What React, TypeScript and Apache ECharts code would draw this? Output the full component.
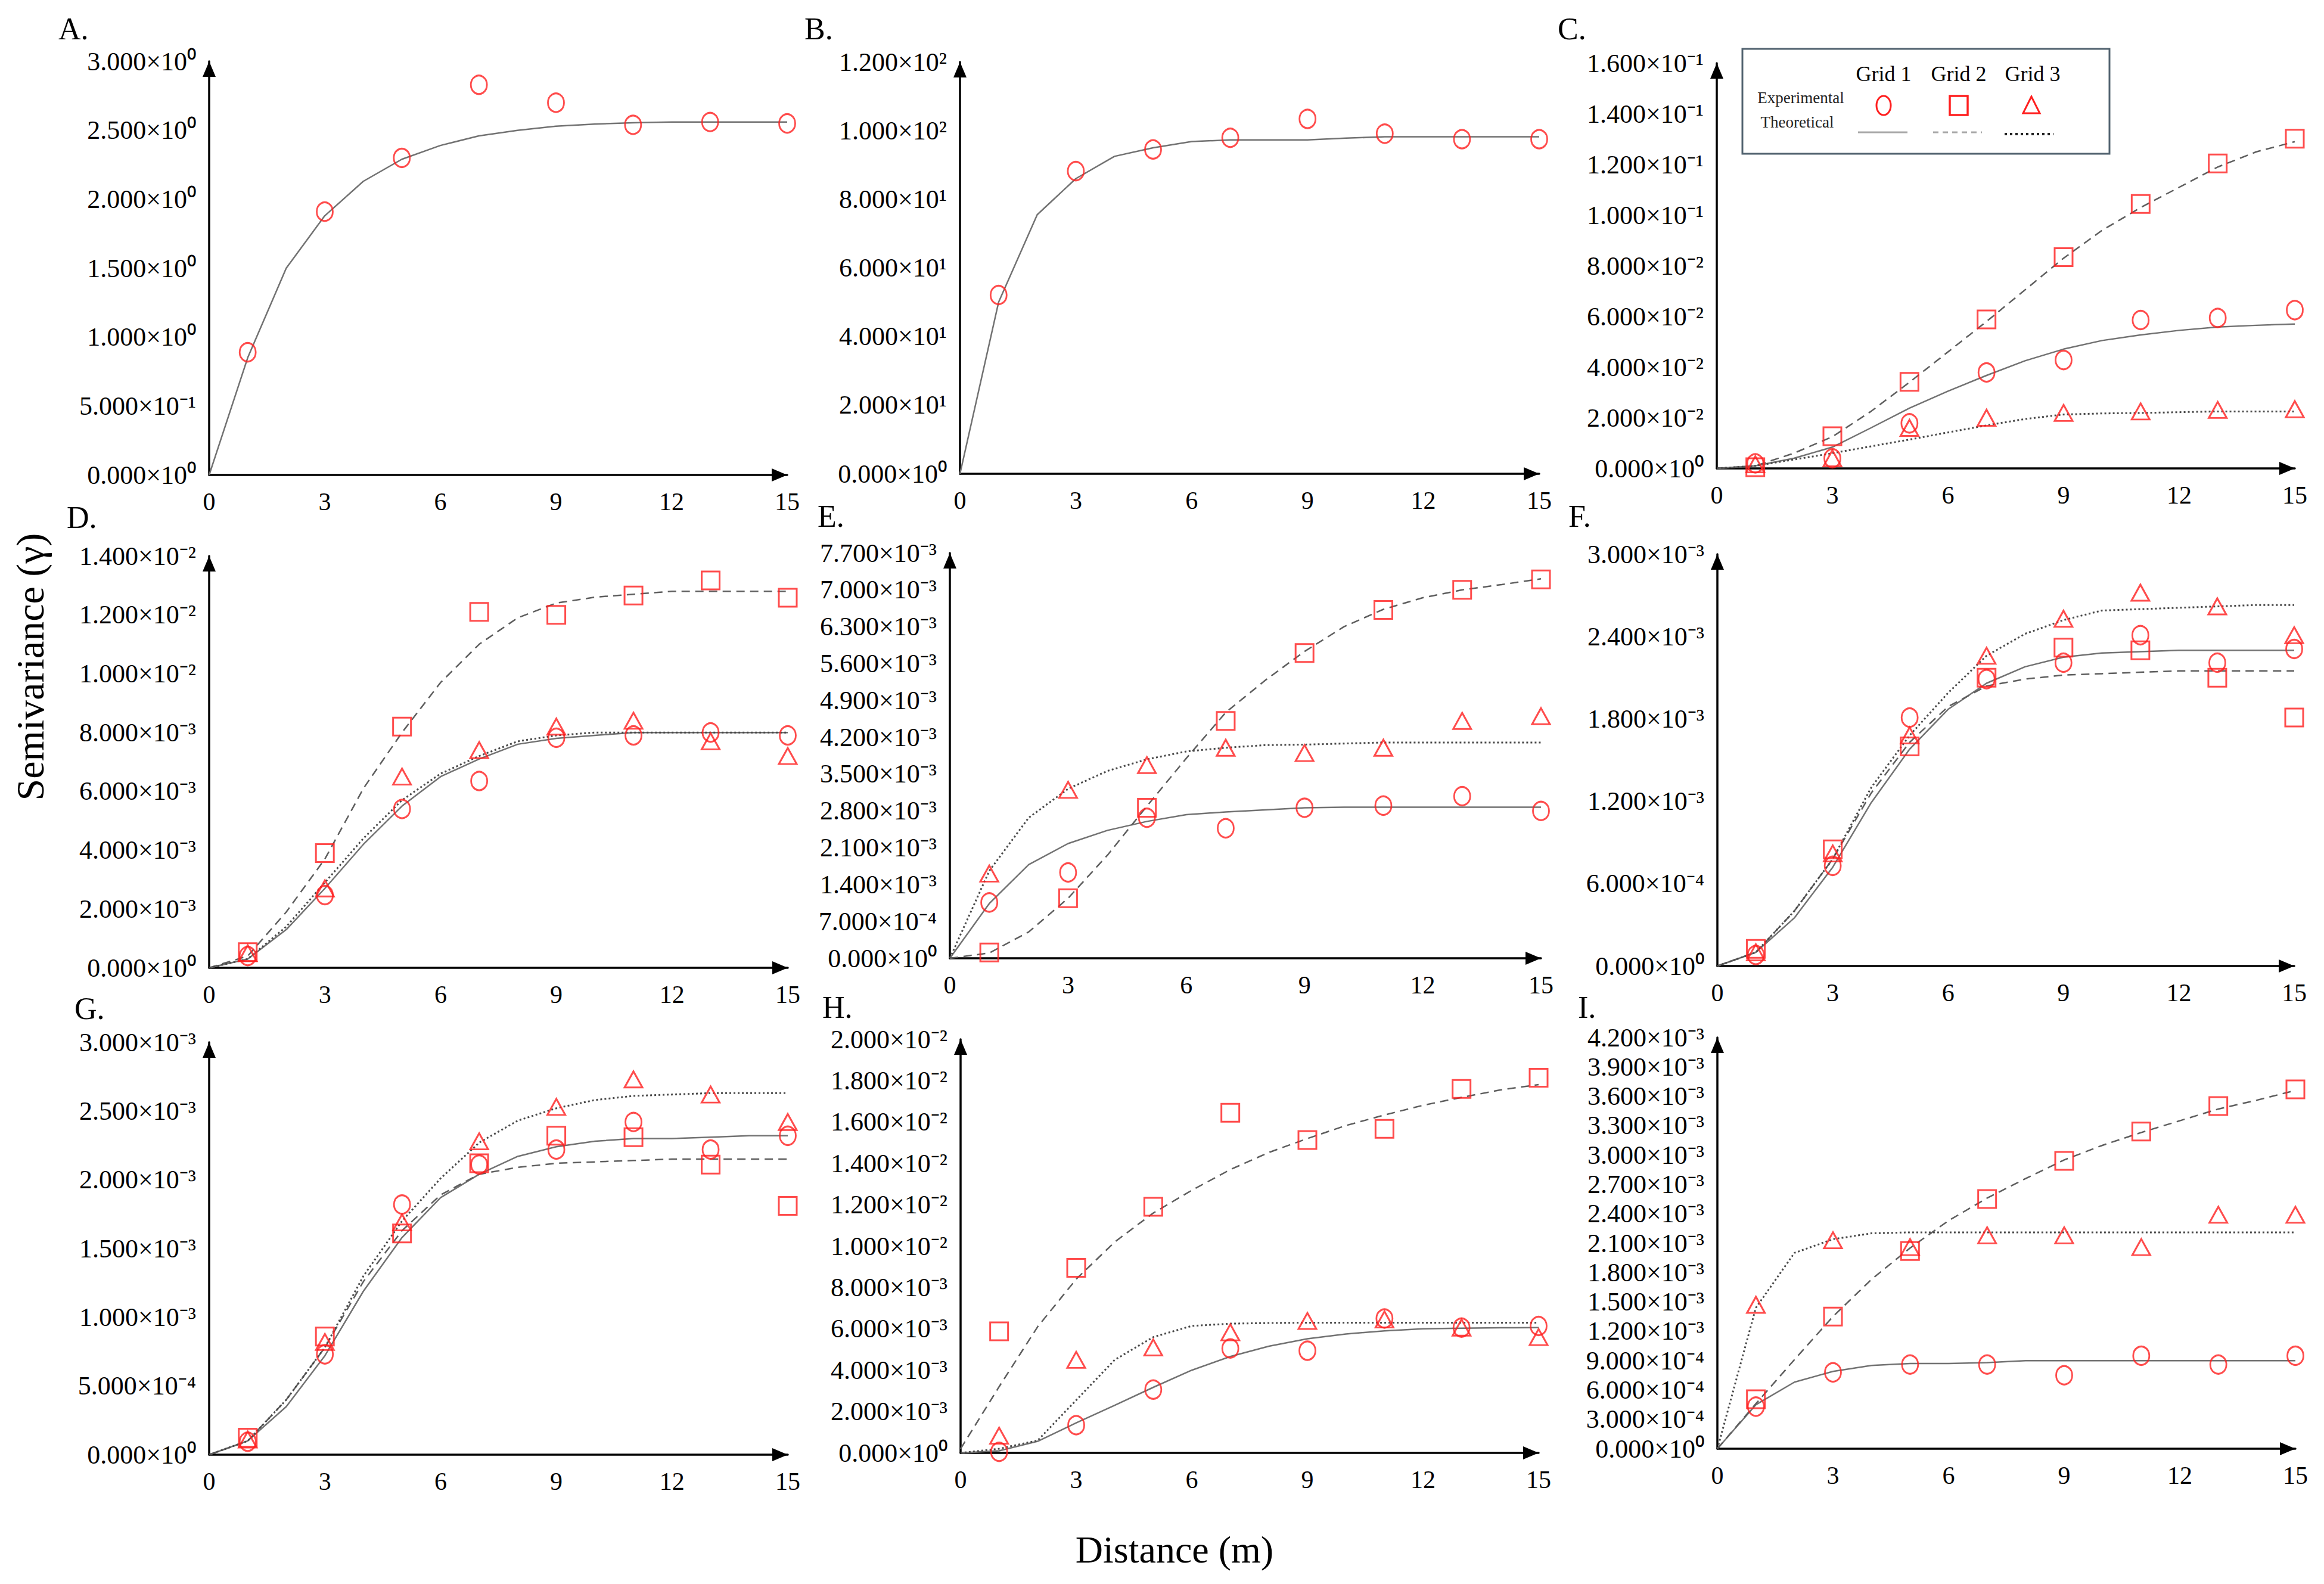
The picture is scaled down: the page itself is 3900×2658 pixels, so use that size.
import React, { useEffect, useRef } from "react";
import * as echarts from "echarts";

// ---------- data ----------
const pointX = [1, 3, 5, 7, 9, 11, 13, 15];
const lineX = [0, 1, 2, 3, 4, 5, 6, 7, 8, 9, 10, 11, 12, 13, 14, 15];
const xTicks = [0, 3, 6, 9, 12, 15];

// A
const aG1Pts = [0.89, 1.91, 2.3, 2.83, 2.7, 2.54, 2.56, 2.55];
const aG1Line = [0, 0.85, 1.5, 1.88, 2.13, 2.29, 2.39, 2.46, 2.5, 2.53, 2.545, 2.555, 2.56, 2.56, 2.56, 2.56];
// B
const bG1Pts = [52.1, 88.2, 94.5, 97.9, 103.4, 99.1, 97.5, 97.5];
const bG1Line = [0, 50, 75.5, 86, 92.5, 95, 96.8, 97.3, 97.3, 97.3, 97.8, 98.2, 98.2, 98.2, 98.2, 98.2];
// C
const cG1Pts = [0.002, 0.004, 0.0178, 0.0379, 0.0428, 0.0586, 0.0594, 0.0625];
const cG2Pts = [0.0005, 0.0127, 0.0342, 0.0588, 0.0834, 0.1044, 0.1204, 0.1302];
const cG3Pts = [0.0016, 0.004, 0.016, 0.02, 0.0219, 0.0225, 0.0231, 0.0234];
const cG1Line = [0, 0.001, 0.004, 0.0084, 0.016, 0.0238, 0.0305, 0.0367, 0.0425, 0.0471, 0.0505, 0.0527, 0.0545, 0.0558, 0.0565, 0.057];
const cG2Line = [0, 0.001, 0.006, 0.0125, 0.0225, 0.034, 0.046, 0.058, 0.0705, 0.083, 0.094, 0.103, 0.111, 0.119, 0.125, 0.129];
const cG3Line = [0, 0.001, 0.0035, 0.006, 0.0087, 0.0114, 0.0142, 0.017, 0.0195, 0.0213, 0.0217, 0.0219, 0.0222, 0.0225, 0.0225, 0.0225];
// D
const dG1Pts = [0.0004, 0.00247, 0.0054, 0.00635, 0.00782, 0.0079, 0.008, 0.0079];
const dG2Pts = [0.00053, 0.0039, 0.0082, 0.0121, 0.012, 0.01266, 0.01317, 0.01258];
const dG3Pts = [0.0005, 0.0027, 0.0065, 0.0074, 0.0082, 0.0084, 0.0077, 0.0072];
const dG1Line = [0, 0.0003, 0.0013, 0.0027, 0.0042, 0.0055, 0.0065, 0.0071, 0.0076, 0.0078, 0.0079, 0.008, 0.008, 0.008, 0.008, 0.008];
const dG2Line = [0, 0.0004, 0.0019, 0.0037, 0.0061, 0.008, 0.0097, 0.011, 0.0119, 0.0124, 0.0126, 0.0127, 0.0128, 0.0128, 0.0128, 0.0128];
const dG3Line = [0, 0.0003, 0.0014, 0.0029, 0.0044, 0.0057, 0.0066, 0.0072, 0.0077, 0.0079, 0.008, 0.008, 0.008, 0.008, 0.008, 0.008];
// E
const eG1Pts = [0.00106, 0.00163, 0.00267, 0.00247, 0.00286, 0.0029, 0.00308, 0.0028];
const eG2Pts = [0.00011, 0.00114, 0.00286, 0.00451, 0.0058, 0.00662, 0.007, 0.0072];
const eG3Pts = [0.00161, 0.0032, 0.00367, 0.004, 0.0039, 0.004, 0.00451, 0.0046];
const eG1Line = [0, 0.00104, 0.00178, 0.00218, 0.00243, 0.0026, 0.00273, 0.00278, 0.00282, 0.00286, 0.00287, 0.00287, 0.00287, 0.00287, 0.00287, 0.00287];
const eG2Line = [0, 0.0001, 0.0005, 0.00114, 0.00196, 0.00289, 0.0038, 0.00467, 0.00528, 0.00583, 0.0063, 0.00663, 0.00685, 0.007, 0.0071, 0.00721];
const eG3Line = [0, 0.00166, 0.00267, 0.00322, 0.00356, 0.00378, 0.00393, 0.004, 0.00405, 0.00406, 0.00408, 0.0041, 0.0041, 0.0041, 0.0041, 0.0041];
// F
const fG1Pts = [0.00008, 0.00073, 0.00181, 0.00209, 0.00221, 0.00241, 0.00221, 0.00231];
const fG2Pts = [0.000125, 0.00085, 0.0016, 0.0021, 0.00232, 0.0023, 0.0021, 0.00181];
const fG3Pts = [0.0001, 0.00082, 0.00168, 0.00226, 0.00253, 0.00272, 0.00262, 0.00241];
const fG1Line = [0, 0.0001, 0.00035, 0.00072, 0.00119, 0.00158, 0.00187, 0.00206, 0.00218, 0.00225, 0.00228, 0.00229, 0.0023, 0.0023, 0.0023, 0.0023];
const fG2Line = [0, 0.0001, 0.0004, 0.00078, 0.00126, 0.00163, 0.00189, 0.00204, 0.00209, 0.00212, 0.00213, 0.00214, 0.00215, 0.00215, 0.00215, 0.00215];
const fG3Line = [0, 0.0001, 0.0004, 0.00078, 0.0013, 0.00168, 0.00199, 0.00226, 0.00242, 0.00252, 0.00259, 0.0026, 0.00261, 0.00262, 0.00263, 0.00263];
// G
const gG1Pts = [0.000094, 0.00073, 0.00182, 0.00211, 0.00222, 0.00242, 0.00222, 0.00232];
const gG2Pts = [0.000124, 0.00086, 0.00161, 0.00212, 0.00232, 0.00231, 0.00211, 0.00181];
const gG3Pts = [0.00011, 0.00082, 0.00169, 0.00228, 0.00253, 0.00273, 0.00262, 0.00242];
const gG1Line = [0, 0.0001, 0.00035, 0.00072, 0.00119, 0.00158, 0.00187, 0.00204, 0.00217, 0.00224, 0.00228, 0.0023, 0.0023, 0.00231, 0.00232, 0.00232];
const gG2Line = [0, 0.0001, 0.0004, 0.00078, 0.00126, 0.00163, 0.00189, 0.00204, 0.00209, 0.00212, 0.00213, 0.00214, 0.00215, 0.00215, 0.00215, 0.00215];
const gG3Line = [0, 0.0001, 0.0004, 0.00078, 0.0013, 0.0017, 0.00201, 0.00227, 0.00243, 0.00252, 0.00258, 0.00261, 0.00262, 0.00263, 0.00263, 0.00263];
// H
const hG1Pts = [0.00005, 0.00134, 0.00306, 0.00505, 0.00494, 0.0065, 0.00606, 0.00614];
const hG2Pts = [0.00588, 0.00895, 0.0119, 0.01645, 0.01513, 0.01567, 0.0176, 0.01814];
const hG3Pts = [0.00083, 0.0045, 0.0051, 0.00583, 0.00638, 0.00645, 0.00606, 0.0056];
const hG1Line = [0, 0.0001, 0.00056, 0.00145, 0.0023, 0.00317, 0.004, 0.00466, 0.00516, 0.00552, 0.00575, 0.0059, 0.006, 0.00603, 0.00605, 0.00606];
const hG2Line = [0.0002, 0.0032, 0.0061, 0.0084, 0.0102, 0.0116, 0.0127, 0.0137, 0.01453, 0.0152, 0.01583, 0.01634, 0.01681, 0.01719, 0.01755, 0.01781];
const hG3Line = [0, 0.0002, 0.0006, 0.00255, 0.0045, 0.0056, 0.00614, 0.00625, 0.00628, 0.0063, 0.0063, 0.0063, 0.0063, 0.0063, 0.0063, 0.0063];
// I
const iG1Pts = [0.00043, 0.00078, 0.00086, 0.00086, 0.00075, 0.00095, 0.00086, 0.00095];
const iG2Pts = [0.000505, 0.00135, 0.00202, 0.00255, 0.00294, 0.00324, 0.0035, 0.00367];
const iG3Pts = [0.00147, 0.00213, 0.00206, 0.00218, 0.00218, 0.00206, 0.00239, 0.00239];
const iG1Line = [0, 0.00045, 0.00068, 0.00079, 0.00085, 0.00087, 0.00087, 0.00088, 0.0009, 0.0009, 0.0009, 0.0009, 0.0009, 0.0009, 0.0009, 0.0009];
const iG2Line = [0, 0.00046, 0.00091, 0.00135, 0.00173, 0.00205, 0.00233, 0.00256, 0.00276, 0.00295, 0.0031, 0.00323, 0.00335, 0.00347, 0.00356, 0.00366];
const iG3Line = [0, 0.00144, 0.002, 0.00214, 0.0022, 0.00221, 0.00221, 0.00221, 0.00221, 0.00221, 0.00221, 0.00221, 0.00221, 0.00221, 0.00221, 0.00221];

// y-axis ranges [max, interval]
const yMaxA = 3, yIntA = 0.5;
const yMaxB = 120, yIntB = 20;
const yMaxC = 0.16, yIntC = 0.02;
const yMaxD = 0.014, yIntD = 0.002;
const yMaxE = 0.0077, yIntE = 0.0007;
const yMaxF = 0.003, yIntF = 0.0006;
const yMaxG = 0.003, yIntG = 0.0005;
const yMaxH = 0.02, yIntH = 0.002;
const yMaxI = 0.0042, yIntI = 0.0003;

const legendGrids = ["Grid 1", "Grid 2", "Grid 3"];

// ---------- layout ----------
const FONT = "'Liberation Serif', 'Times New Roman', serif";

type Panel = {
  letter: string;
  rect: [number, number, number, number]; // left, top, right, bottom
  letterPos: [number, number];
  yMax: number;
  yInt: number;
  pts: (number[] | null)[];
  lines: (number[] | null)[];
};

const panels: Panel[] = [
  { letter: "A.", rect: [351, 103, 1321, 797], letterPos: [98, 48], yMax: yMaxA, yInt: yIntA, pts: [aG1Pts, null, null], lines: [aG1Line, null, null] },
  { letter: "B.", rect: [1611, 104, 2583, 795], letterPos: [1350, 48], yMax: yMaxB, yInt: yIntB, pts: [bG1Pts, null, null], lines: [bG1Line, null, null] },
  { letter: "C.", rect: [2881, 106, 3851, 786], letterPos: [2614, 48], yMax: yMaxC, yInt: yIntC, pts: [cG1Pts, cG2Pts, cG3Pts], lines: [cG1Line, cG2Line, cG3Line] },
  { letter: "D.", rect: [351, 933, 1322, 1624], letterPos: [112, 868], yMax: yMaxD, yInt: yIntD, pts: [dG1Pts, dG2Pts, dG3Pts], lines: [dG1Line, dG2Line, dG3Line] },
  { letter: "E.", rect: [1594, 928, 2586, 1608], letterPos: [1372, 866], yMax: yMaxE, yInt: yIntE, pts: [eG1Pts, eG2Pts, eG3Pts], lines: [eG1Line, eG2Line, eG3Line] },
  { letter: "F.", rect: [2882, 930, 3850, 1621], letterPos: [2632, 866], yMax: yMaxF, yInt: yIntF, pts: [fG1Pts, fG2Pts, fG3Pts], lines: [fG1Line, fG2Line, fG3Line] },
  { letter: "G.", rect: [351, 1749, 1322, 2441], letterPos: [125, 1692], yMax: yMaxG, yInt: yIntG, pts: [gG1Pts, gG2Pts, gG3Pts], lines: [gG1Line, gG2Line, gG3Line] },
  { letter: "H.", rect: [1612, 1744, 2582, 2438], letterPos: [1380, 1690], yMax: yMaxH, yInt: yIntH, pts: [hG1Pts, hG2Pts, hG3Pts], lines: [hG1Line, hG2Line, hG3Line] },
  { letter: "I.", rect: [2882, 1741, 3852, 2431], letterPos: [2648, 1690], yMax: yMaxI, yInt: yIntI, pts: [iG1Pts, iG2Pts, iG3Pts], lines: [iG1Line, iG2Line, iG3Line] },
];

const RED = "#ff1f1f";
const lineStyles: any[] = [
  { color: "#727272", width: 2.5, type: "solid" },
  { color: "#5e5e5e", width: 2.5, type: [14, 9] },
  { color: "#4a4a4a", width: 3, type: [3, 4] },
];
const markers: any[] = [
  { symbol: "circle", size: [27, 31] },
  { symbol: "rect", size: [30, 30] },
  { symbol: "triangle", size: [30, 27] },
];

const SUP: Record<string, string> = {
  "0": "⁰", "1": "¹", "2": "²", "3": "³", "4": "⁴", "5": "⁵", "6": "⁶", "7": "⁷", "8": "⁸", "9": "⁹", "-": "⁻",
};
function sci(v: number): string {
  const s = v.toExponential(3);
  const [m, e] = s.split("e");
  const ee = String(parseInt(e, 10));
  return m + "×10" + ee.split("").map((c) => SUP[c] || c).join("");
}

function buildOption() {
  const grid: any[] = [];
  const xAxis: any[] = [];
  const yAxis: any[] = [];
  const series: any[] = [];
  const graphic: any[] = [];

  panels.forEach((p, i) => {
    const [l, t, r, b] = p.rect;
    grid.push({ left: l, top: t, width: r - l, height: b - t, containLabel: false, outerBoundsMode: "none" });
    const axisLine = (size: [number, number]) => ({
      show: true,
      onZero: false,
      lineStyle: { color: "#000", width: 3.5 },
      symbol: ["none", "triangle"],
      symbolSize: size,
      symbolOffset: [0, -size[1] / 2],
    });
    xAxis.push({
      type: "value",
      gridIndex: i,
      min: xTicks[0],
      max: xTicks[xTicks.length - 1],
      interval: xTicks[1] - xTicks[0],
      axisLine: axisLine([22, 26]),
      axisTick: { show: false },
      splitLine: { show: false },
      axisLabel: { fontFamily: FONT, fontSize: 42, color: "#000", margin: 24 },
    });
    yAxis.push({
      type: "value",
      gridIndex: i,
      min: 0,
      max: p.yMax,
      interval: p.yInt,
      axisLine: axisLine([22, 26]),
      axisTick: { show: false },
      splitLine: { show: false },
      axisLabel: { fontFamily: FONT, fontSize: 44, color: "#000", margin: 22, formatter: (v: number) => sci(v) },
    });
    p.lines.forEach((arr, k) => {
      if (!arr) return;
      series.push({
        type: "line",
        xAxisIndex: i,
        yAxisIndex: i,
        data: lineX.map((x, j) => [x, arr[j]]),
        symbol: "none",
        showSymbol: false,
        silent: true,
        lineStyle: lineStyles[k],
        z: 3,
      });
    });
    p.pts.forEach((arr, k) => {
      if (!arr) return;
      series.push({
        type: "scatter",
        xAxisIndex: i,
        yAxisIndex: i,
        data: pointX.map((x, j) => [x, arr[j]]),
        symbol: markers[k].symbol,
        symbolSize: markers[k].size,
        itemStyle: { color: "transparent", borderColor: RED, borderWidth: 3 },
        z: 4,
      });
    });
    graphic.push({
      type: "text",
      x: p.letterPos[0],
      y: p.letterPos[1],
      style: { text: p.letter, font: `52px ${FONT}`, fill: "#000", textAlign: "left", textVerticalAlign: "middle" },
    });
  });

  // axis titles
  graphic.push({
    type: "text",
    x: 1971,
    y: 2600,
    style: { text: "Distance (m)", font: `64px ${FONT}`, fill: "#000", textAlign: "center", textVerticalAlign: "middle" },
  });
  graphic.push({
    type: "text",
    x: 50,
    y: 1119,
    rotation: Math.PI / 2,
    style: { text: "Semivariance (γ)", font: `66px ${FONT}`, fill: "#000", textAlign: "center", textVerticalAlign: "middle" },
  });

  // legend box in panel C
  const lg: any[] = [];
  lg.push({ type: "rect", shape: { x: 2924, y: 82, width: 616, height: 176 }, style: { fill: "#fff", stroke: "#51626f", lineWidth: 3 } });
  const colX = [3161, 3287, 3411];
  legendGrids.forEach((g, k) => {
    lg.push({ type: "text", x: colX[k], y: 124, style: { text: g, font: `36px ${FONT}`, fill: "#000", textAlign: "center", textVerticalAlign: "middle" } });
  });
  lg.push({ type: "text", x: 3022, y: 164, style: { text: "Experimental", font: `27px ${FONT}`, fill: "#222", textAlign: "center", textVerticalAlign: "middle" } });
  lg.push({ type: "text", x: 3016, y: 205, style: { text: "Theoretical", font: `27px ${FONT}`, fill: "#222", textAlign: "center", textVerticalAlign: "middle" } });
  lg.push({ type: "ellipse", shape: { cx: colX[0], cy: 177, rx: 12, ry: 16 }, style: { fill: "none", stroke: RED, lineWidth: 3 } });
  lg.push({ type: "rect", shape: { x: colX[1] - 15, y: 161, width: 30, height: 32 }, style: { fill: "none", stroke: RED, lineWidth: 3.5 } });
  lg.push({ type: "polygon", shape: { points: [[colX[2] - 2, 162], [colX[2] - 16, 190], [colX[2] + 12, 190]] }, style: { fill: "none", stroke: RED, lineWidth: 3 } });
  lg.push({ type: "line", shape: { x1: 3118, y1: 222, x2: 3201, y2: 222 }, style: { stroke: "#a8a8a8", lineWidth: 3 } });
  lg.push({ type: "line", shape: { x1: 3244, y1: 222, x2: 3326, y2: 222 }, style: { stroke: "#a8a8a8", lineWidth: 3, lineDash: [9, 7] } });
  lg.push({ type: "line", shape: { x1: 3364, y1: 225, x2: 3446, y2: 225 }, style: { stroke: "#222", lineWidth: 4, lineDash: [4, 5] } });
  graphic.push({ type: "group", z: 10, children: lg });

  return {
    animation: false,
    backgroundColor: "#fff",
    grid,
    xAxis,
    yAxis,
    series,
    graphic,
  };
}

export default function App() {
  const ref = useRef<HTMLDivElement>(null);
  useEffect(() => {
    if (!ref.current) return;
    const chart = echarts.init(ref.current, undefined, { renderer: "svg" });
    chart.setOption(buildOption() as any);
    return () => chart.dispose();
  }, []);
  return (
    <div
      ref={ref}
      style={{ position: "absolute", left: 0, top: 0, width: 3900, height: 2658, background: "#fff" }}
    />
  );
}
